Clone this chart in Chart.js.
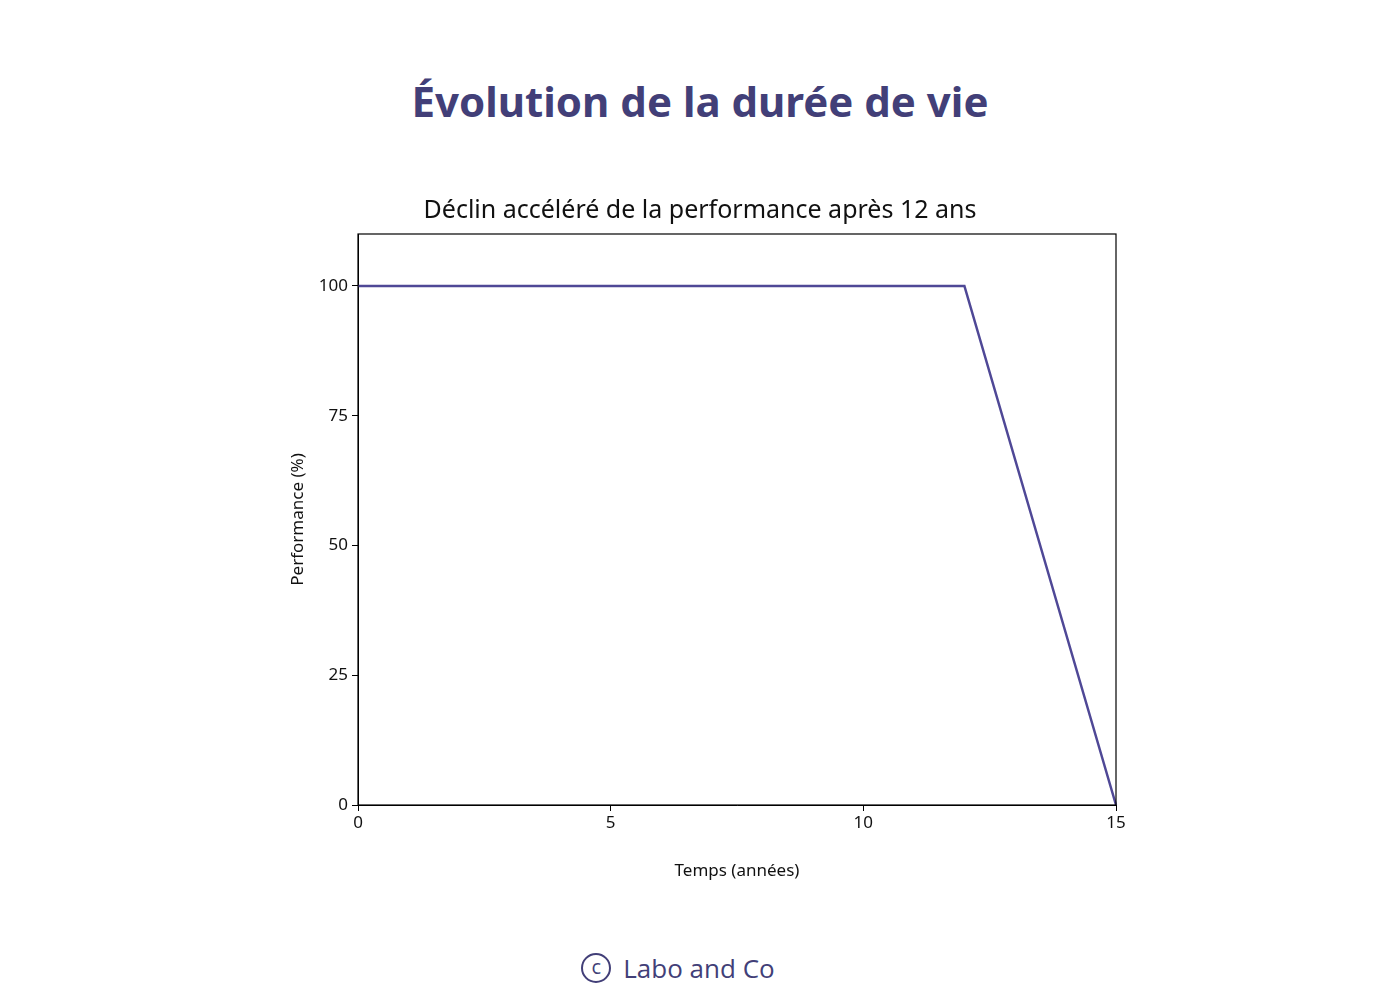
<!DOCTYPE html>
<html><head><meta charset="utf-8">
<script src="https://cdn.jsdelivr.net/npm/chart.js@4"></script>
<style>
body{margin:0;width:1400px;height:1000px;background:#fff;position:relative;font-family:"Open Sans",sans-serif;overflow:hidden}
#t{position:absolute;top:72px;left:0;width:1400px;text-align:center;font-size:42px;font-weight:700;color:#423f78;font-family:"Noto Sans",sans-serif}
#c{position:absolute;left:0;top:180px;width:1400px;height:720px}
#f{position:absolute;top:950px;left:-22px;width:1400px;text-align:center;font-size:26px;color:#423f78}
#f span.c{display:inline-block;width:26px;height:26px;border:2px solid #423f78;border-radius:50%;font-size:20px;line-height:24px;text-align:center;vertical-align:middle;margin-right:12px;position:relative;top:-3px}
</style></head><body>
<div id="t">Évolution de la durée de vie</div>
<div id="c"><canvas id="cv"></canvas></div>
<div id="f"><span class="c">c</span>Labo and Co</div>
<script>
const years=[0,12,15];
const performance=[100,100,0];
const xTicks=[0,5,10,15];
const yTicks=[0,25,50,75,100];
const boxPlugin={id:'box',afterDraw(c){const a=c.chartArea,x=c.ctx;x.save();x.strokeStyle='#000';x.lineWidth=1.2;x.strokeRect(a.left,a.top,a.right-a.left,a.bottom-a.top);x.restore();}};
const tickFont={family:'Noto Sans',size:17};
new Chart(document.getElementById('cv'),{
type:'line',
data:{datasets:[{data:years.map((x,i)=>({x,y:performance[i]})),borderColor:'#4f4896',borderWidth:2.5,pointRadius:0,tension:0,clip:false}]},
options:{responsive:true,maintainAspectRatio:false,animation:false,
layout:{padding:{left:284,right:284,top:2,bottom:15}},
plugins:{legend:{display:false},tooltip:{enabled:false},
title:{display:true,text:'Déclin accéléré de la performance après 12 ans',color:'#111',font:{family:'Noto Sans',size:25,weight:'normal'},padding:{top:14,bottom:8}}},
scales:{
x:{type:'linear',min:0,max:15,afterBuildTicks:s=>{s.ticks=xTicks.map(v=>({value:v}))},afterFit:s=>{s.height=80},
grid:{display:true,drawOnChartArea:false,drawTicks:true,tickLength:6,color:'#000'},border:{color:'#000'},
ticks:{color:'#111',font:tickFont,maxRotation:0,padding:2},
title:{display:true,text:'Temps (années)',color:'#111',font:tickFont,padding:{top:0}}},
y:{min:0,max:110,afterBuildTicks:s=>{s.ticks=yTicks.map(v=>({value:v}))},afterFit:s=>{s.width=74},
grid:{display:true,drawOnChartArea:false,drawTicks:true,tickLength:6,color:'#000'},border:{color:'#000'},
ticks:{color:'#111',font:tickFont,padding:4},
title:{display:true,text:'Performance (%)',color:'#111',font:tickFont,padding:{bottom:4}}}
}},
plugins:[boxPlugin]});
</script></body></html>
